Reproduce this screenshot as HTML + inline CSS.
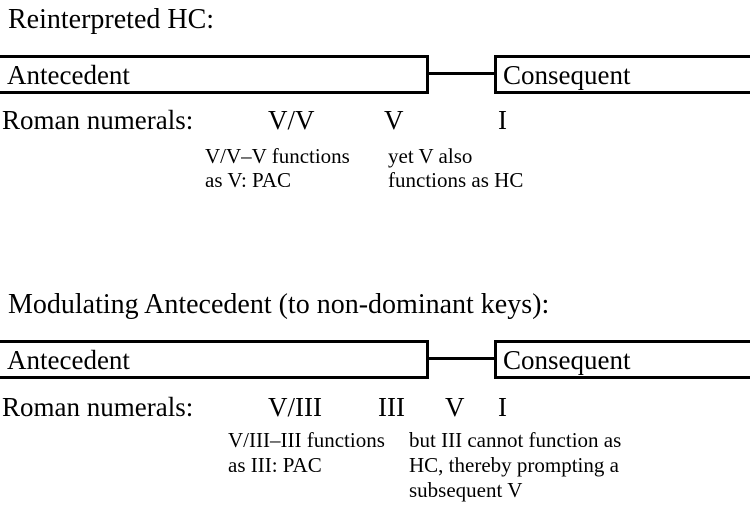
<!DOCTYPE html>
<html><head><style>
body{margin:0;width:750px;height:520px;background:#fff;position:relative;overflow:hidden;font-family:"Liberation Serif",serif;color:#000}
.t{position:absolute;white-space:nowrap;line-height:1}
.h{font-size:28px}
.b{font-size:27px}
.s{font-size:21px;line-height:24px}
.box{position:absolute;border:3px solid #000;box-sizing:border-box;height:39px}
.ln{position:absolute;height:3px;background:#000}
</style></head><body>
<div class="t h" style="left:8px;top:6px">Reinterpreted HC:</div>
<div class="box" style="left:-5px;top:55px;width:434px"></div>
<div class="ln" style="left:428px;top:72px;width:67px"></div>
<div class="box" style="left:494px;top:55px;width:270px"></div>
<div class="t b" style="left:7px;top:62px">Antecedent</div>
<div class="t b" style="left:503px;top:62px">Consequent</div>
<div class="t b" style="left:2px;top:107px">Roman numerals:</div>
<div class="t b" style="left:268px;top:107px">V/V</div>
<div class="t b" style="left:384px;top:107px">V</div>
<div class="t b" style="left:498px;top:107px">I</div>
<div class="t s" style="left:205px;top:144px">V/V–V functions<br>as V: PAC</div>
<div class="t s" style="left:388px;top:144px">yet V also<br>functions as HC</div>

<div class="t h" style="left:8px;top:291px">Modulating Antecedent (to non-dominant keys):</div>
<div class="box" style="left:-5px;top:340px;width:434px"></div>
<div class="ln" style="left:428px;top:357px;width:67px"></div>
<div class="box" style="left:494px;top:340px;width:270px"></div>
<div class="t b" style="left:7px;top:347px">Antecedent</div>
<div class="t b" style="left:503px;top:347px">Consequent</div>
<div class="t b" style="left:2px;top:394px">Roman numerals:</div>
<div class="t b" style="left:268px;top:394px">V/III</div>
<div class="t b" style="left:378px;top:394px">III</div>
<div class="t b" style="left:445px;top:394px">V</div>
<div class="t b" style="left:498px;top:394px">I</div>
<div class="t s" style="left:228px;top:428px;line-height:25px">V/III–III functions<br>as III: PAC</div>
<div class="t s" style="left:409px;top:428px;line-height:25px">but III cannot function as<br>HC, thereby prompting a<br>subsequent V</div>
</body></html>
